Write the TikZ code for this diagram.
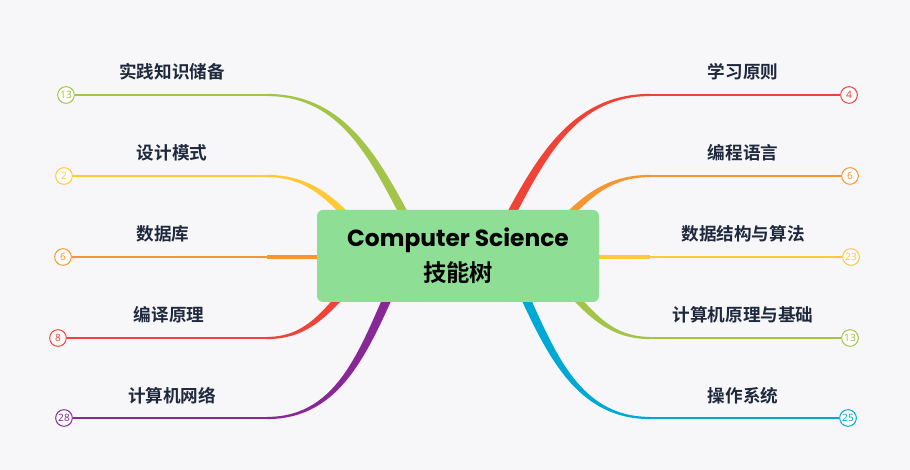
\documentclass[tikz,border=0pt]{standalone}
\usepackage{fontspec}
\newfontfamily\cjk{Noto Sans CJK SC Bold}
\newfontfamily\popp{Poppins}
\newfontfamily\numf{Noto Sans}
\usepackage{xcolor}
\definecolor{bgpaper}{RGB}{247,247,249}
\definecolor{rootgreen}{RGB}{142,222,150}
\definecolor{inkblue}{RGB}{31,41,61}
\definecolor{bred}{RGB}{240,67,56}
\definecolor{borange}{RGB}{245,150,50}
\definecolor{byellow}{RGB}{255,200,55}
\definecolor{bgreen}{RGB}{162,196,72}
\definecolor{bcyan}{RGB}{0,168,214}
\definecolor{bpurple}{RGB}{135,40,150}
\usetikzlibrary{calc}

\begin{document}
\begin{tikzpicture}[
x=0.75pt,y=0.75pt,
root/.style={fill=rootgreen,rounded corners=4.5pt,minimum width=211.5pt,minimum height=69pt,align=center,text=black,font=\fontsize{17.5}{26}\selectfont},
topic/.style={text=inkblue,inner sep=0pt,font=\cjk\fontsize{13.2}{16}\selectfont},
count/.style={circle,draw,fill=white,line width=0.75pt,minimum size=12.5pt,inner sep=0pt,font=\numf\fontsize{7.6}{8}\selectfont},
stem/.style={line width=1.5pt},
trunk/.style={line width=3pt}]
\fill[bgpaper] (0,0) rectangle (910,470);
\useasboundingbox (0,0) rectangle (910,470);
\coordinate (learn-a) at (500,235); \coordinate (learn-b) at (650,375);
\coordinate (lang-a) at (555,240); \coordinate (lang-b) at (650,294);
\coordinate (algo-a) at (590,213); \coordinate (algo-b) at (650,213);
\coordinate (arch-a) at (560,190); \coordinate (arch-b) at (650,132);
\coordinate (os-a) at (515,195); \coordinate (os-b) at (650,52);
\coordinate (practice-a) at (415,235); \coordinate (practice-b) at (267,375);
\coordinate (design-a) at (360,240); \coordinate (design-b) at (267,294);
\coordinate (db-a) at (330,213); \coordinate (db-b) at (267,213);
\coordinate (compiler-a) at (355,190); \coordinate (compiler-b) at (267,132);
\coordinate (net-a) at (398,195); \coordinate (net-b) at (267,52);
\node[count,draw=bred,text=bred] (learn) at (849,375) {4};
\node[count,draw=borange,text=borange] (lang) at (850,294) {6};
\node[count,draw=byellow,text=byellow] (algo) at (851,213) {23};
\node[count,draw=bgreen,text=bgreen] (arch) at (850,132) {13};
\node[count,draw=bcyan,text=bcyan] (os) at (848,52) {25};
\node[count,draw=bgreen,text=bgreen] (practice) at (66,375) {13};
\node[count,draw=byellow,text=byellow] (design) at (64,294) {2};
\node[count,draw=borange,text=borange] (db) at (63,213) {6};
\node[count,draw=bred,text=bred] (compiler) at (58,132) {8};
\node[count,draw=bpurple,text=bpurple] (net) at (64,52) {28};
\node[topic] (learn-t) at (743,398) {学习原则};
\node[topic] (lang-t) at (743,317) {编程语言};
\node[topic] (algo-t) at (743,236) {数据结构与算法};
\node[topic] (arch-t) at (743,155) {计算机原理与基础};
\node[topic] (os-t) at (743,74) {操作系统};
\node[topic] (practice-t) at (172,398) {实践知识储备};
\node[topic] (design-t) at (172,317) {设计模式};
\node[topic] (db-t) at (163,236) {数据库};
\node[topic] (compiler-t) at (169,155) {编译原理};
\node[topic] (net-t) at (172,74) {计算机网络};
\fill[bred] ($(learn-a)+(-5,0)$) to[out=62,in=180] ($(learn-b)+(0,1.1)$) -- ($(learn-b)+(0,-1.1)$) to[out=180,in=62] ($(learn-a)+(5,0)$) -- cycle;
\fill[borange] ($(lang-a)+(-5,0)$) to[out=48,in=180] ($(lang-b)+(0,1.1)$) -- ($(lang-b)+(0,-1.1)$) to[out=180,in=48] ($(lang-a)+(5,0)$) -- cycle;
\fill[bgreen] ($(arch-a)+(-5,0)$) to[out=-48,in=180] ($(arch-b)+(0,-1.1)$) -- ($(arch-b)+(0,1.1)$) to[out=180,in=-48] ($(arch-a)+(5,0)$) -- cycle;
\fill[bcyan] ($(os-a)+(-5,0)$) to[out=-65,in=180] ($(os-b)+(0,-1.1)$) -- ($(os-b)+(0,1.1)$) to[out=180,in=-65] ($(os-a)+(5,0)$) -- cycle;
\fill[bgreen] ($(practice-a)+(5,0)$) to[out=118,in=0] ($(practice-b)+(0,1.1)$) -- ($(practice-b)+(0,-1.1)$) to[out=0,in=118] ($(practice-a)+(-5,0)$) -- cycle;
\fill[byellow] ($(design-a)+(5,0)$) to[out=132,in=0] ($(design-b)+(0,1.1)$) -- ($(design-b)+(0,-1.1)$) to[out=0,in=132] ($(design-a)+(-5,0)$) -- cycle;
\fill[bred] ($(compiler-a)+(5,0)$) to[out=228,in=0] ($(compiler-b)+(0,-1.1)$) -- ($(compiler-b)+(0,1.1)$) to[out=0,in=228] ($(compiler-a)+(-5,0)$) -- cycle;
\fill[bpurple] ($(net-a)+(5,0)$) to[out=245,in=0] ($(net-b)+(0,-1.1)$) -- ($(net-b)+(0,1.1)$) to[out=0,in=245] ($(net-a)+(-5,0)$) -- cycle;
\draw[trunk,byellow] (algo-a) -- (algo-b); \draw[trunk,borange] (db-a) -- (db-b);
\draw[stem,bred] (learn-b) -- (learn); \draw[stem,borange] (lang-b) -- (lang);
\draw[stem,byellow] (algo-b) -- (algo); \draw[stem,bgreen] (arch-b) -- (arch);
\draw[stem,bcyan] (os-b) -- (os); \draw[stem,bgreen] (practice-b) -- (practice);
\draw[stem,byellow] (design-b) -- (design); \draw[stem,borange] (db-b) -- (db);
\draw[stem,bred] (compiler-b) -- (compiler); \draw[stem,bpurple] (net-b) -- (net);
\node[root] (root) at (458,214) {{\popp\bfseries Computer Science}\\{\cjk 技能树}};
\end{tikzpicture}
\end{document}
